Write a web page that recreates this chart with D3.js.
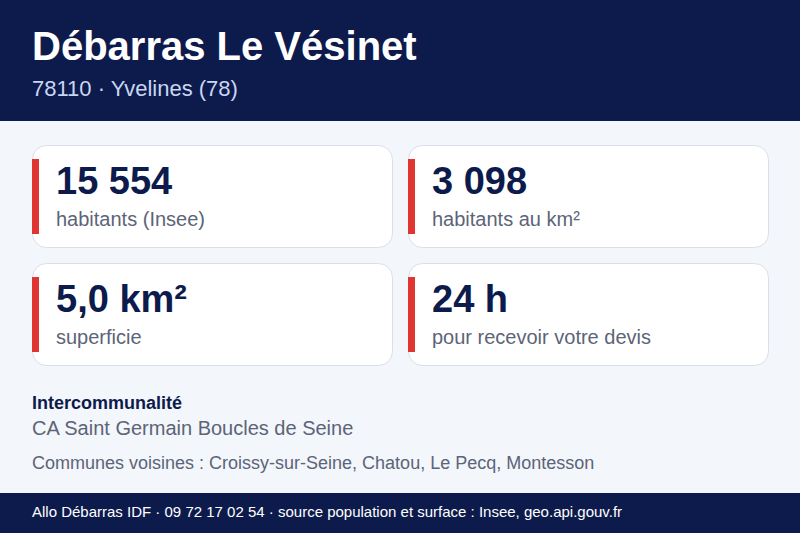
<!DOCTYPE html>
<html lang="fr">
<head>
<meta charset="utf-8">
<script src="https://cdn.jsdelivr.net/npm/d3@7"></script>
<style>
  html, body { margin: 0; padding: 0; background: #f3f6fb; }
  text { font-family: "Liberation Sans", Arial, sans-serif; }
</style>
</head>
<body>
<script>
const title = "Débarras Le Vésinet";
const subtitle = "78110 · Yvelines (78)";
const cardValues = ["15 554", "3 098", "5,0 km²", "24 h"];
const cardLabels = ["habitants (Insee)", "habitants au km²", "superficie", "pour recevoir votre devis"];
const interTitle = "Intercommunalité";
const interName = "CA Saint Germain Boucles de Seine";
const neighbours = "Communes voisines : Croissy-sur-Seine, Chatou, Le Pecq, Montesson";
const footer = "Allo Débarras IDF · 09 72 17 02 54 · source population et surface : Insee, geo.api.gouv.fr";

const width = 800, height = 533;
const navy = "#0d1b4c", red = "#e03530", grey = "#5c6478";

const svg = d3.select("body").append("svg")
    .attr("width", width).attr("height", height)
    .style("display", "block");

svg.append("rect").attr("width", width).attr("height", height).attr("fill", "#f3f6fb");

//header
svg.append("rect").attr("width", width).attr("height", 121).attr("fill", navy);
svg.append("text").attr("x", 32).attr("y", 60).attr("font-size", 40).attr("font-weight", 700)
    .attr("fill", "#fff").text(title);
svg.append("text").attr("x", 32).attr("y", 96).attr("font-size", 22)
    .attr("fill", "#c9d6f2").text(subtitle);

//cards, two by two
const xScale = d3.scaleOrdinal().domain([0, 1]).range([32, 408]);
const yScale = d3.scaleOrdinal().domain([0, 1]).range([145, 263]);
const cardW = 360, cardH = 102;

const cards = svg.selectAll("g.card")
    .data(cardValues)
    .enter()
    .append("g")
    .attr("class", "card")
    .attr("transform", (d, i) => `translate(${xScale(i % 2)}, ${yScale(Math.floor(i / 2))})`);

cards.append("rect")
    .attr("x", 0.5).attr("y", 0.5)
    .attr("width", cardW).attr("height", cardH)
    .attr("rx", 14)
    .attr("fill", "#fff").attr("stroke", "#d9dfe9");
cards.append("rect")
    .attr("x", 0).attr("y", 14)
    .attr("width", 7).attr("height", 75)
    .attr("fill", red);
cards.append("text")
    .attr("x", 24).attr("y", 49)
    .attr("font-size", 38).attr("font-weight", 700)
    .attr("fill", navy)
    .text(d => d);
cards.append("text")
    .attr("x", 24).attr("y", 81)
    .attr("font-size", 20)
    .attr("fill", grey)
    .text((d, i) => cardLabels[i]);

//bottom text
svg.append("text").attr("x", 32).attr("y", 409).attr("font-size", 18).attr("font-weight", 700)
    .attr("fill", navy).text(interTitle);
svg.append("text").attr("x", 32).attr("y", 435).attr("font-size", 20)
    .attr("fill", grey).text(interName);
svg.append("text").attr("x", 32).attr("y", 469).attr("font-size", 18)
    .attr("fill", grey).text(neighbours);

//footer
svg.append("rect").attr("y", 493).attr("width", width).attr("height", 40).attr("fill", navy);
svg.append("text").attr("x", 32).attr("y", 517).attr("font-size", 15)
    .attr("fill", "#fff").text(footer);
</script>
</body>
</html>
